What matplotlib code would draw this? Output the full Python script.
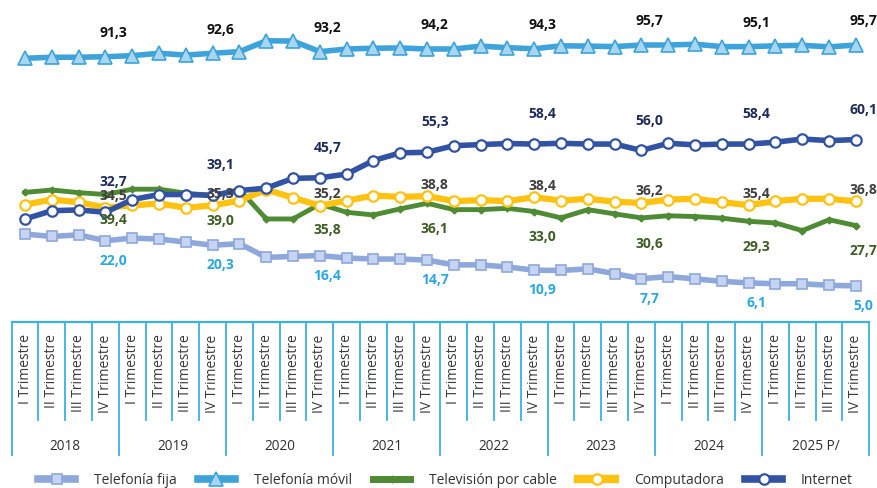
import matplotlib
matplotlib.use("Agg")
import matplotlib.pyplot as plt
import numpy as np
from matplotlib.lines import Line2D

# ---------------- data ----------------
quarters = ["I Trimestre", "II Trimestre", "III Trimestre", "IV Trimestre"] * 8
years = ["2018", "2019", "2020", "2021", "2022", "2023", "2024", "2025 P/"]

telefonia_fija = [24.5, 23.6, 24.2, 22.0, 23.0, 22.6, 21.5, 20.3, 20.9, 15.7, 16.1, 16.4,
                  15.5, 15.1, 15.1, 14.7, 12.9, 12.9, 12.1, 10.9, 10.8, 11.4, 9.6, 7.7,
                  8.5, 7.6, 6.7, 6.1, 5.8, 5.8, 5.2, 5.0]
telefonia_movil = [90.7, 91.1, 91.1, 91.3, 91.7, 92.6, 91.9, 92.6, 93.2, 97.3, 97.2, 93.2,
                   94.2, 94.5, 94.6, 94.2, 94.2, 95.3, 94.7, 94.3, 95.4, 95.3, 95.1, 95.7,
                   95.7, 96.0, 95.1, 95.1, 95.4, 95.6, 95.0, 95.7]
television_cable = [40.2, 41.1, 40.1, 39.4, 41.4, 41.4, 39.9, 39.0, 41.2, 30.2, 30.2, 35.8,
                    32.7, 31.7, 34.0, 36.1, 33.7, 33.7, 34.2, 33.0, 30.6, 33.7, 32.1, 30.6,
                    31.4, 31.1, 30.5, 29.3, 28.7, 25.8, 29.9, 27.7]
computadora = [35.6, 37.5, 36.5, 34.5, 35.3, 36.0, 34.4, 35.3, 37.1, 41.2, 38.2, 35.2,
               37.1, 39.0, 38.5, 38.8, 36.9, 37.3, 36.9, 38.4, 37.1, 37.8, 36.7, 36.2,
               37.5, 37.8, 36.5, 35.4, 36.9, 37.8, 37.8, 36.8]
internet = [30.2, 33.3, 33.6, 32.7, 37.5, 39.4, 39.4, 39.1, 40.9, 41.8, 45.5, 45.7,
            47.1, 52.2, 55.1, 55.3, 57.8, 58.2, 58.6, 58.4, 58.7, 58.4, 58.4, 56.0,
            58.7, 58.1, 58.4, 58.4, 59.1, 60.3, 59.7, 60.1]

# ---------------- style ----------------
FONT = "Open Sans"
plt.rcParams["font.family"] = [FONT, "DejaVu Sans"]

W, H = 877, 488
fig = plt.figure(figsize=(W / 100, H / 100), dpi=100)

def fx(px):
    return px / W

def fy(py):
    return 1 - py / H

x0, x1 = 11.7, 869.3
axis_y = 321.7
ax = fig.add_axes([fx(x0), fy(axis_y), fx(x1 - x0), fy(0) - fy(axis_y)])
n = len(quarters)
x = np.arange(n)
ax.set_xlim(-0.5, n - 0.5)
ax.set_ylim(-8.5, 112.66)
ax.axis("off")

series = [
    dict(name="Telefonía fija", data=telefonia_fija, color="#8EA8DB", marker="s", ms=7,
         mfc="#C7D4F1", mec="#8EA8DB", mew=1.2, lw=4.0, z=2,
         lab_color="#2BA8E0", dy=-14.5),
    dict(name="Telefonía móvil", data=telefonia_movil, color="#3DA3DA", marker="^", ms=10,
         mfc="#A8D5EF", mec="#3DA3DA", mew=1.2, lw=4.0, z=3,
         lab_color="#111111", dy=17),
    dict(name="Televisión por cable", data=television_cable, color="#4E8B34", marker="D", ms=3.5,
         mfc="#4E8B34", mec="#4E8B34", mew=1.0, lw=3.5, z=4,
         lab_color="#3E5E25", dy=-18.5),
    dict(name="Computadora", data=computadora, color="#FFC211", marker="o", ms=7.5,
         mfc="white", mec="#FFC211", mew=1.6, lw=4.5, z=5,
         lab_color="#3F3F3F", dy=8.3),
    dict(name="Internet", data=internet, color="#3253A4", marker="o", ms=7.5,
         mfc="white", mec="#3253A4", mew=1.6, lw=4.0, z=6,
         lab_color="#1F2B5B", dy=21.5),
]

handles = []
for s in series:
    ax.plot(x, s["data"], color=s["color"], lw=s["lw"], marker=s["marker"], ms=s["ms"],
            mfc=s["mfc"], mec=s["mec"], mew=s["mew"], zorder=s["z"], clip_on=False,
            solid_joinstyle="miter")
    handles.append(Line2D([0], [0], color=s["color"], lw=s["lw"] + 1.5, marker=s["marker"],
                          ms=s["ms"], mfc=s["mfc"], mec=s["mec"], mew=s["mew"],
                          label=s["name"]))
    for i in range(3, n, 4):
        v = s["data"][i]
        ax.annotate(f"{v:.1f}".replace(".", ","), (x[i], v), xytext=(5.5, s["dy"]),
                    textcoords="offset points", ha="center", va="center",
                    fontsize=10, fontweight="bold", color=s["lab_color"],
                    family=[FONT, "DejaVu Sans"], zorder=10, annotation_clip=False)

# ---------------- category axis ----------------
q_bot, y_bot = 420, 455
cax = fig.add_axes([fx(x0), fy(y_bot), fx(x1 - x0), fy(axis_y) - fy(y_bot)])
cax.set_xlim(-0.5, n - 0.5)
cax.set_ylim(y_bot, axis_y)  # pixel-like coords, inverted
cax.axis("off")
line_c = "#3AB1E0"
cax.plot([-0.5, n - 0.5], [axis_y, axis_y], color=line_c, lw=1.6, clip_on=False)
for k in range(n + 1):
    xb = k - 0.5
    bottom = y_bot if k % 4 == 0 else q_bot
    cax.plot([xb, xb], [axis_y, bottom], color=line_c, lw=1.3, clip_on=False)
for i, q in enumerate(quarters):
    cax.text(x[i], 334.5, q, rotation=90, ha="center", va="top", fontsize=10,
             color="#3A3A3A")
for j, yname in enumerate(years):
    cax.text(4 * j + 1.5, 446.5, yname, ha="center", va="center", fontsize=9.8,
             color="#2F2F2F")

# ---------------- legend ----------------
leg = fig.legend(handles=handles, loc="center", bbox_to_anchor=(0.508, fy(480)), ncol=5,
                 frameon=False, fontsize=10, handlelength=2.7, handletextpad=1.35,
                 columnspacing=1.5, borderaxespad=0)
for t in leg.get_texts():
    t.set_color("#333333")

fig.savefig("out.png", dpi=100)
